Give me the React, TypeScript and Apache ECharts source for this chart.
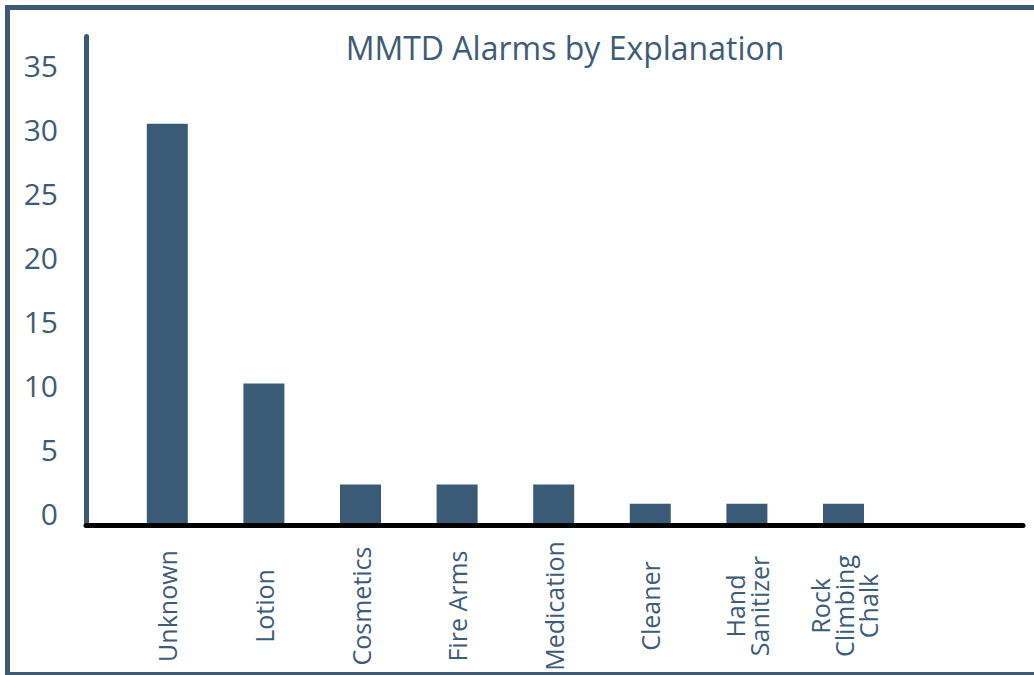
import React, { useEffect, useRef } from "react";
import * as echarts from "echarts";

const categories = [
  "Unknown",
  "Lotion",
  "Cosmetics",
  "Fire Arms",
  "Medication",
  "Cleaner",
  "Hand\nSanitizer",
  "Rock\nClimbing\nChalk",
];
const alarmCounts = [31.2, 10.9, 3, 3, 3, 1.5, 1.5, 1.5];
const yMin = 0;
const yMax = 38;
const yInterval = 5;
const titleText = "MMTD Alarms by Explanation";

const BLUE = "#3a5a75";
const TEXT = "#3c5c78";
const FONT = "'Open Sans', 'Noto Sans', sans-serif";

export default function App() {
  const ref = useRef<HTMLDivElement>(null);
  useEffect(() => {
    if (!ref.current) return;
    const chart = echarts.init(ref.current, null, { renderer: "svg" });
    chart.setOption({
      animation: false,
      backgroundColor: "#ffffff",
      grid: [
        { left: 119, top: 36.6, width: 772.8, bottom: 152, containLabel: false },
        { left: 86, top: 36.6, width: 937, bottom: 149.5, containLabel: false },
      ],
      xAxis: [
        {
          type: "category",
          gridIndex: 0,
          data: categories,
          axisLine: { show: false },
          axisTick: { show: false },
          splitLine: { show: false },
          axisLabel: {
            interval: 0,
            rotate: 90,
            align: "center",
            verticalAlign: "middle",
            margin: 83,
            fontSize: 25,
            lineHeight: 24,
            color: TEXT,
            fontFamily: FONT,
          },
        },
        {
          type: "value",
          gridIndex: 1,
          min: 0,
          max: 1,
          axisLine: { show: true, lineStyle: { color: "#000000", width: 5 } },
          axisTick: { show: false },
          axisLabel: { show: false },
          splitLine: { show: false },
        },
      ],
      yAxis: [
        {
          type: "value",
          gridIndex: 0,
          min: yMin,
          max: yMax,
          interval: yInterval,
          offset: 33,
          axisLine: { show: true, lineStyle: { color: BLUE, width: 5 } },
          axisTick: { show: false },
          splitLine: { show: false },
          axisLabel: {
            showMaxLabel: false,
            fontSize: 30,
            color: TEXT,
            fontFamily: FONT,
            margin: 28,
            verticalAlign: "bottom",
            lineHeight: 20,
          },
        },
        {
          type: "value",
          gridIndex: 1,
          show: false,
          min: 0,
          max: 1,
        },
      ],
      series: [
        {
          type: "bar",
          xAxisIndex: 0,
          yAxisIndex: 0,
          data: alarmCounts,
          barWidth: 41,
          itemStyle: { color: "#3a5b76" },
          z: 3,
        },
      ],
      graphic: [
        {
          type: "rect",
          shape: { x: 7.5, y: 7.5, width: 1040, height: 667 },
          style: { fill: "none", stroke: BLUE, lineWidth: 5 },
          silent: true,
        },
        {
          type: "text",
          x: 565,
          y: 47,
          style: {
            text: titleText,
            fill: TEXT,
            font: `32px ${FONT}`,
            align: "center",
            verticalAlign: "middle",
          },
        },
      ],
    });
    return () => chart.dispose();
  }, []);
  return (
    <div
      ref={ref}
      style={{ position: "absolute", left: 0, top: 0, width: 1034, height: 675 }}
    />
  );
}
